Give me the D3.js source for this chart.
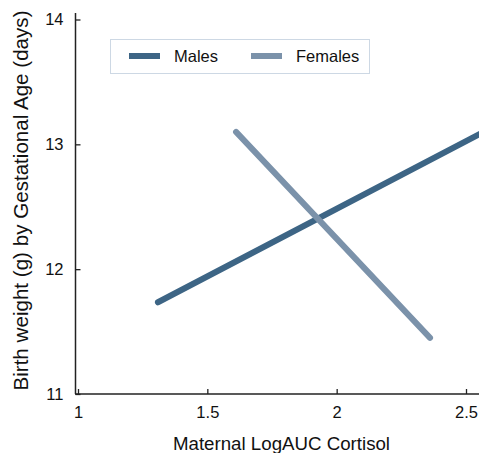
<!DOCTYPE html>
<html>
<head>
<meta charset="utf-8">
<script src="https://cdn.jsdelivr.net/npm/d3@7"></script>
<style>
  body { margin: 0; background: #fff; }
  text { font-family: "Liberation Sans", Arial, sans-serif; fill: #111; }
</style>
</head>
<body>
<div id="wrapper"></div>
<script>
// data
const seriesNames = ["Males", "Females"]
const malesX = [1.309, 2.56]
const malesY = [11.735, 13.09]
const femalesX = [1.611, 2.361]
const femalesY = [13.10, 11.45]
const xTicks = [1, 1.5, 2, 2.5]
const yTicks = [11, 12, 13, 14]

const colors = ["#3d6585", "#7b92aa"]

function drawChart() {
  const dimensions = { width: 479, height: 453 }

  const svg = d3.select("#wrapper")
    .append("svg")
      .attr("width", dimensions.width)
      .attr("height", dimensions.height)

  const xScale = d3.scaleLinear()
    .domain([1, 2.5])
    .range([78, 466])

  const yScale = d3.scaleLinear()
    .domain([11, 14])
    .range([394, 19.5])

  // axes lines
  svg.append("line")
    .attr("x1", 75).attr("x2", 479)
    .attr("y1", 394).attr("y2", 394)
    .attr("stroke", "#222").attr("stroke-width", 1.5)
  svg.append("line")
    .attr("x1", 75.5).attr("x2", 75.5)
    .attr("y1", 13).attr("y2", 394)
    .attr("stroke", "#222").attr("stroke-width", 1.5)

  const xAxis = svg.append("g")
    .attr("transform", "translate(0,394)")
    .call(d3.axisBottom(xScale)
      .tickValues(xTicks)
      .tickFormat(d3.format("~g"))
      .tickSizeInner(-5)
      .tickSizeOuter(0)
      .tickPadding(12.5))
  xAxis.select(".domain").remove()
  xAxis.selectAll("line").attr("stroke", "#222").attr("stroke-width", 1.3)
  xAxis.selectAll("text").style("font-size", "16.5px").attr("fill", "#111")

  const yAxis = svg.append("g")
    .attr("transform", "translate(75.5,0)")
    .call(d3.axisLeft(yScale)
      .tickValues(yTicks)
      .tickFormat(d3.format("d"))
      .tickSizeInner(-5)
      .tickSizeOuter(0)
      .tickPadding(12))
  yAxis.select(".domain").remove()
  yAxis.selectAll("line").attr("stroke", "#222").attr("stroke-width", 1.3)
  yAxis.selectAll("text").style("font-size", "16.5px").attr("fill", "#111")

  // axis titles
  svg.append("text")
    .attr("x", 281.5)
    .attr("y", 450)
    .attr("text-anchor", "middle")
    .style("font-size", "18.7px")
    .text("Maternal LogAUC Cortisol")

  svg.append("text")
    .attr("transform", "translate(28,200.5) rotate(-90)")
    .attr("text-anchor", "middle")
    .style("font-size", "20.6px")
    .text("Birth weight (g) by Gestational Age (days)")

  // lines
  const lineGen = d3.line()
    .x(d => xScale(d[0]))
    .y(d => yScale(d[1]))

  const series = [
    d3.zip(malesX, malesY),
    d3.zip(femalesX, femalesY)
  ]

  svg.selectAll(".series")
    .data(series)
    .enter().append("path")
      .attr("class", "series")
      .attr("d", lineGen)
      .attr("fill", "none")
      .attr("stroke", (d, i) => colors[i])
      .attr("stroke-width", 6)
      .attr("stroke-linecap", "round")

  // legend
  const legend = svg.append("g")
  legend.append("rect")
    .attr("x", 110.5).attr("y", 39.5)
    .attr("width", 259).attr("height", 34)
    .attr("fill", "#fff")
    .attr("stroke", "#cdd8e4")
    .attr("stroke-width", 1)

  const legendX = [129, 251]
  seriesNames.forEach((name, i) => {
    legend.append("line")
      .attr("x1", legendX[i]).attr("x2", legendX[i] + 31)
      .attr("y1", 56).attr("y2", 56)
      .attr("stroke", colors[i])
      .attr("stroke-width", 6)
    legend.append("text")
      .attr("x", legendX[i] + 45)
      .attr("y", 61.5)
      .style("font-size", "16.5px")
      .text(name)
  })
}

drawChart()
</script>
</body>
</html>
